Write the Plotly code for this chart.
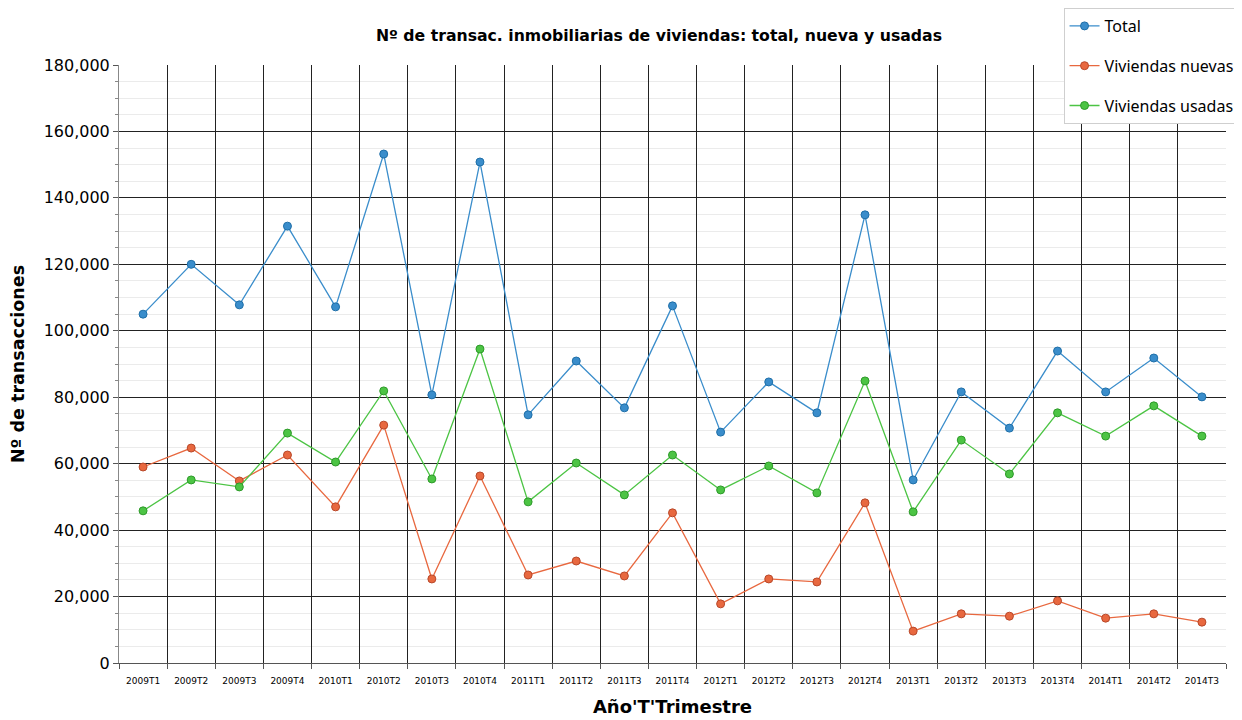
import plotly.graph_objects as go

periodos = ["2009T1", "2009T2", "2009T3", "2009T4", "2010T1", "2010T2", "2010T3", "2010T4",
            "2011T1", "2011T2", "2011T3", "2011T4", "2012T1", "2012T2", "2012T3", "2012T4",
            "2013T1", "2013T2", "2013T3", "2013T4", "2014T1", "2014T2", "2014T3"]
total = [105000, 120000, 107800, 131500, 107200, 153200, 80700, 150800,
         74700, 90900, 76800, 107500, 69500, 84600, 75300, 134900,
         55100, 81600, 70700, 93900, 81600, 91800, 80100]
nuevas = [59000, 64700, 54800, 62600, 47000, 71600, 25300, 56300,
          26500, 30700, 26200, 45200, 17800, 25300, 24400, 48200,
          9600, 14800, 14100, 18700, 13500, 14800, 12300]
usadas = [45800, 55100, 53000, 69200, 60500, 81900, 55400, 94500,
          48500, 60200, 50600, 62600, 52100, 59300, 51200, 84900,
          45500, 67100, 56900, 75300, 68300, 77400, 68300]

series = [("Total", total, "#3a8dcb", "#1f6fa8"),
          ("Viviendas nuevas", nuevas, "#e8683f", "#b8482a"),
          ("Viviendas usadas", usadas, "#4cc444", "#2e9a2a")]

fig = go.Figure()
for i, (name, vals, col, edge) in enumerate(series):
    fig.add_trace(go.Scatter(
        x=periodos, y=vals, name=name, mode="lines+markers",
        legendgroup=str(i),
        line=dict(color=col, width=1.3),
        marker=dict(size=8, color=col, line=dict(color=edge, width=1)),
    ))

# the page adds 8px body margin, so the figure is 8px smaller
fig.update_layout(
    width=1234, height=712,
    margin=dict(l=111, r=16, t=57, b=57, autoexpand=False),
    paper_bgcolor="white", plot_bgcolor="white",
    font=dict(family="DejaVu Sans", color="black"),
    title=dict(text="<b>Nº de transac. inmobiliarias de viviendas: total, nueva y usadas</b>",
               x=0.5275, xanchor="center", y=0.962, yanchor="middle",
               font=dict(size=15.7, family="DejaVu Sans")),
    legend=dict(xref="container", yref="container", x=0.998, xanchor="right",
                y=1.0, yanchor="top", bgcolor="white", bordercolor="#cfcfcf",
                borderwidth=1, font=dict(size=16, family="Noto Sans"),
                tracegroupgap=16, itemwidth=30),
    showlegend=True,
)
fig.update_xaxes(
    type="category", tickson="boundaries", ticks="outside", ticklen=5,
    range=[-0.5, len(periodos) - 0.5], tickangle=0, ticklabelstandoff=9,
    tickcolor="#555555", showgrid=True, gridcolor="#222222", gridwidth=1,
    showline=True, linecolor="#555555", linewidth=1,
    tickfont=dict(size=9, family="DejaVu Sans"),
    title=dict(text="<b>Año'T'Trimestre</b>", font=dict(size=18, family="DejaVu Sans"), standoff=15),
)
fig.update_yaxes(
    range=[0, 180000], dtick=20000, tickformat=",",
    ticks="outside", ticklen=5, tickcolor="#555555",
    showgrid=True, gridcolor="#222222", gridwidth=1,
    showline=True, linecolor="#888888", linewidth=1, zeroline=False,
    tickfont=dict(size=16, family="DejaVu Sans"),
    minor=dict(dtick=5000, showgrid=True, gridcolor="#ebebeb", ticks="outside",
               ticklen=3, tickcolor="#888888"),
    title=dict(text="<b>Nº de transacciones</b>", font=dict(size=17.5, family="DejaVu Sans"), standoff=23),
)

fig.write_html("out.html")
